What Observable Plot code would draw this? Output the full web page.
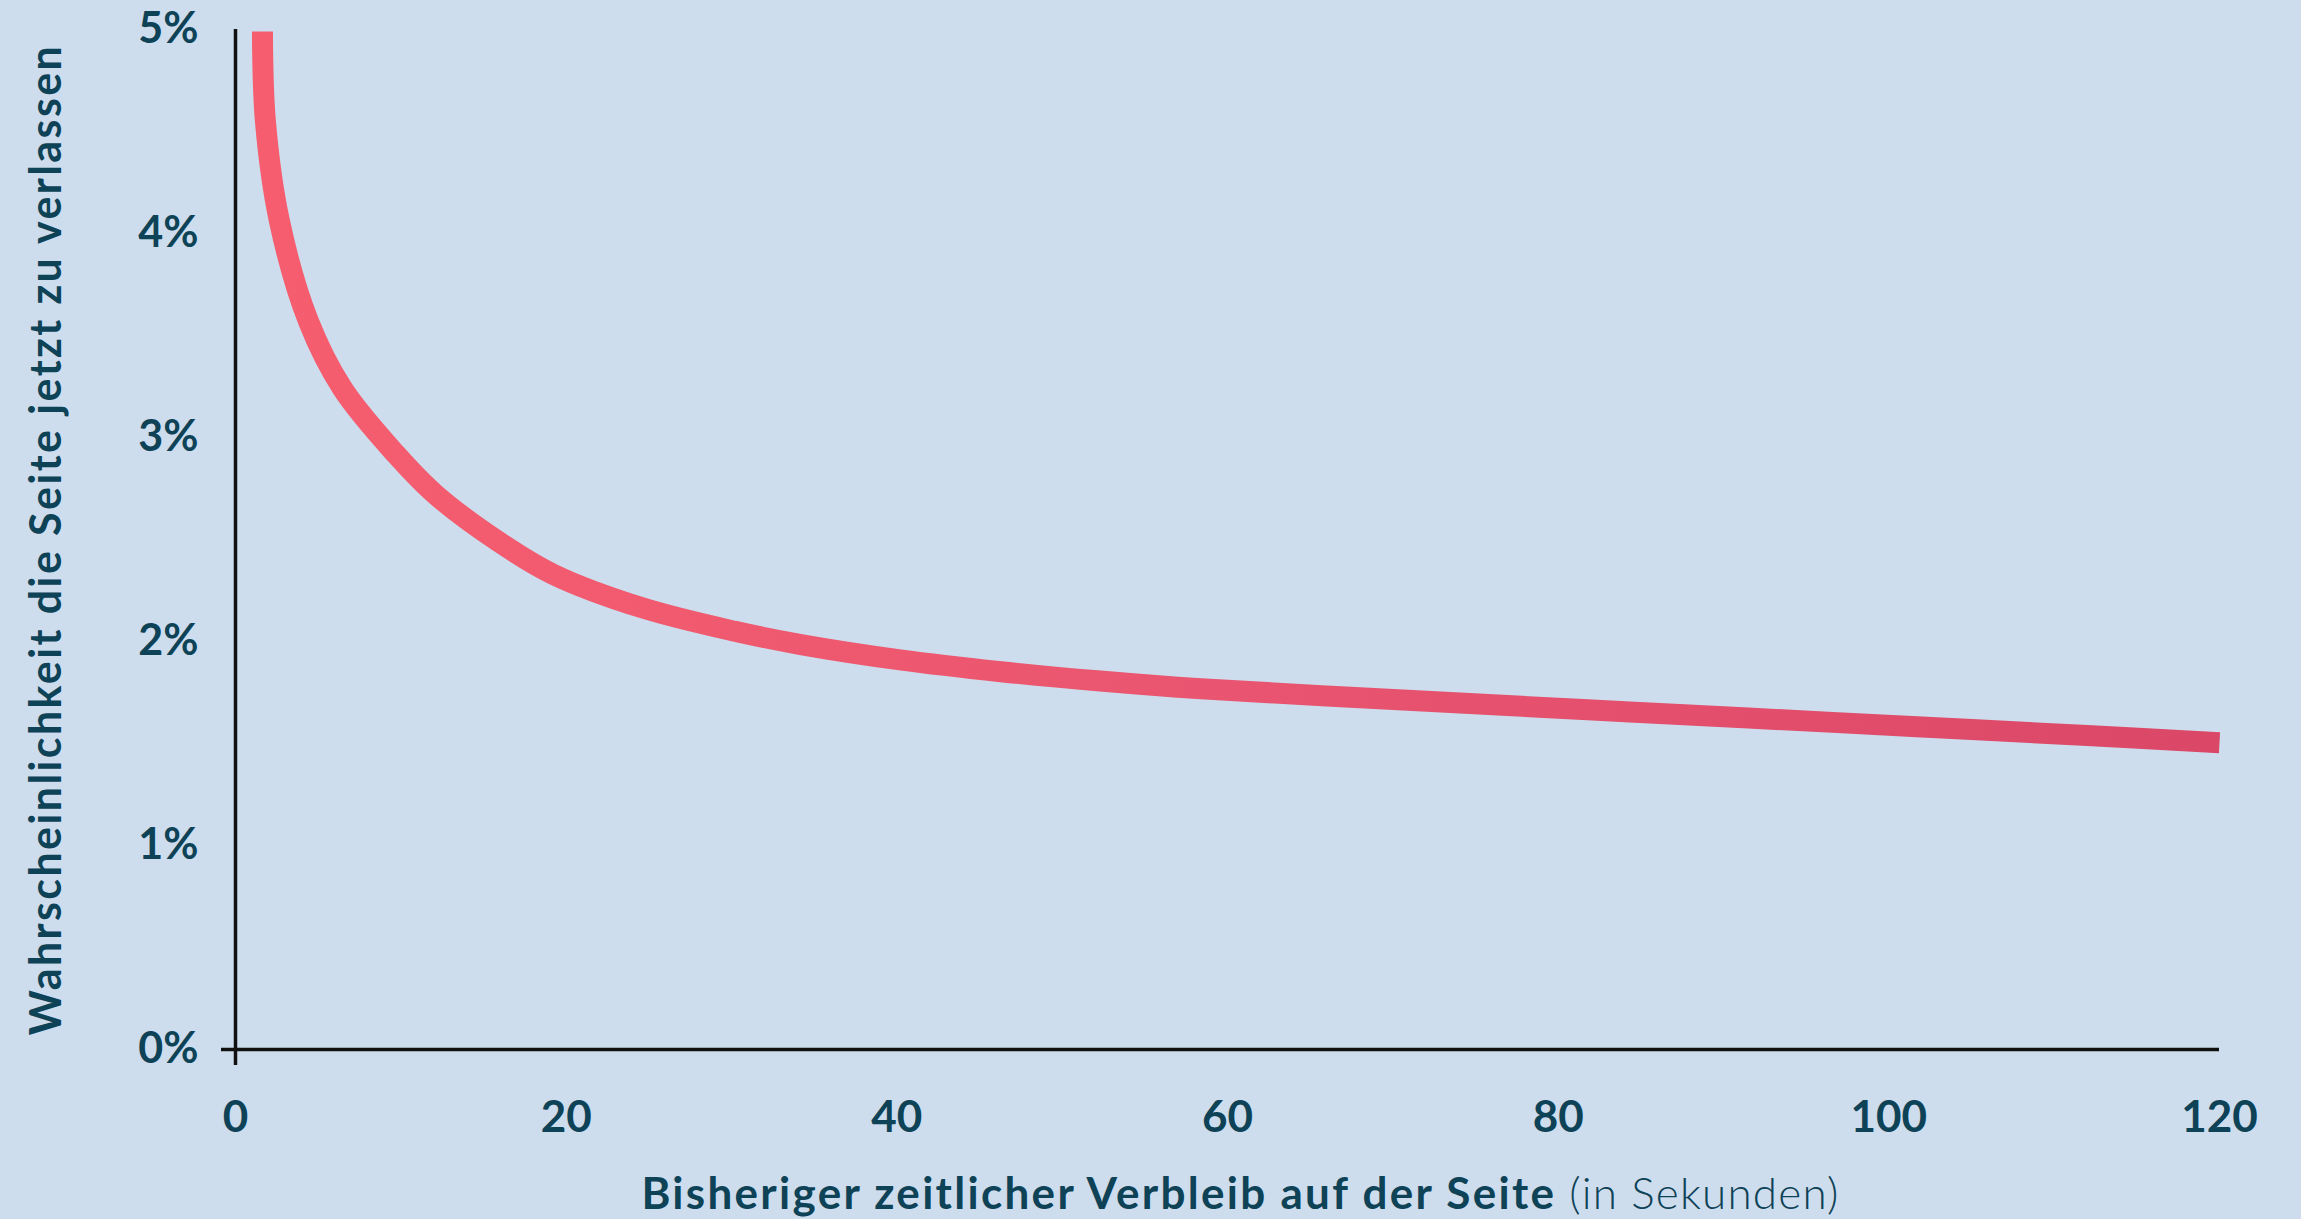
<!DOCTYPE html>
<html>
<head>
<meta charset="utf-8">
<script src="https://cdn.jsdelivr.net/npm/d3@7"></script>
<script src="https://cdn.jsdelivr.net/npm/@observablehq/plot@0.6"></script>
<style>
  html, body { margin: 0; padding: 0; background: #CDDDED; overflow: hidden; }
  #chart svg text { font-weight: 700; }
  #chart svg g[aria-label="y-axis label"] text { letter-spacing: 2.4px; }
  #xtitle { font-family: Lato, "Open Sans", sans-serif; font-size: 44px; color: #0E4257;
            font-weight: 700; text-align: center; padding-left: 180px; padding-top: 6px; line-height: 53px; height: 53px;
            white-space: nowrap; letter-spacing: 2.3px; }
  #xtitle span { font-weight: 300; letter-spacing: 1.2px; }
</style>
</head>
<body>
<div id="chart"></div>
<div id="xtitle">Bisheriger zeitlicher Verbleib auf der Seite <span>(in Sekunden)</span></div>
<script>
// Seconds already spent on the page
const seconds = [1.63, 1.81, 2.66, 4.41, 6.47, 9.68, 12.1, 15.9, 19.2, 24.6, 30.2, 34.2, 40.2, 46.3, 52.3, 58.4, 70.9, 81.2, 91.5, 101.7, 112.0, 120];
// Probability of leaving the page now (%)
const probability = [4.99, 4.55, 4.06, 3.57, 3.24, 2.92, 2.72, 2.49, 2.33, 2.165, 2.05, 1.985, 1.91, 1.852, 1.806, 1.768, 1.712, 1.668, 1.625, 1.582, 1.539, 1.504];
const xTicks = [0, 20, 40, 60, 80, 100, 120];
const yTicks = [0, 1, 2, 3, 4, 5];
const yTitle = "Wahrscheinlichkeit die Seite jetzt zu verlassen";

const data = seconds.map((s, i) => ({s, p: probability[i]}));

const plot = Plot.plot({
  width: 2301,
  height: 1160,
  marginLeft: 235,
  marginRight: 82,
  marginTop: 29,
  marginBottom: 111,
  style: {background: "transparent", color: "#0E4257", fontFamily: "Lato, 'Open Sans', sans-serif", fontSize: "44px"},
  x: {domain: [0, 120]},
  y: {domain: [0, 5]},
  marks: [
    Plot.axisY(yTicks, {tickSize: 0, tickPadding: 37, tickFormat: d => d + "%", label: yTitle, labelArrow: "none", labelAnchor: "center", labelOffset: 205, fontSize: 43}),
    Plot.axisX(xTicks, {tickSize: 0, tickPadding: 51, label: null}),
    Plot.axisY([0], {tickSize: 14, stroke: "#111", strokeWidth: 3.5, tickFormat: () => "", label: null}),
    Plot.axisX([0], {tickSize: 16, stroke: "#111", strokeWidth: 3.5, tickFormat: () => "", label: null}),
    Plot.ruleX([0], {stroke: "#111", strokeWidth: 3.5}),
    Plot.ruleY([0], {stroke: "#111", strokeWidth: 3.5}),
    Plot.line(data, {x: "s", y: "p", curve: "catmull-rom", stroke: "url(#lineGrad)", strokeWidth: 21, strokeLinecap: "butt"})
  ]
});

const ns = "http://www.w3.org/2000/svg";
const defs = document.createElementNS(ns, "defs");
const grad = document.createElementNS(ns, "linearGradient");
grad.setAttribute("id", "lineGrad");
grad.setAttribute("x1", "0"); grad.setAttribute("x2", "1");
grad.setAttribute("y1", "0"); grad.setAttribute("y2", "0");
[["0%", "#F65E6F"], ["50%", "#E95570"], ["100%", "#DB4767"]].forEach(([o, c]) => {
  const st = document.createElementNS(ns, "stop");
  st.setAttribute("offset", o); st.setAttribute("stop-color", c);
  grad.appendChild(st);
});
defs.appendChild(grad);
plot.insertBefore(defs, plot.firstChild);
document.getElementById("chart").appendChild(plot);
</script>
</body>
</html>
